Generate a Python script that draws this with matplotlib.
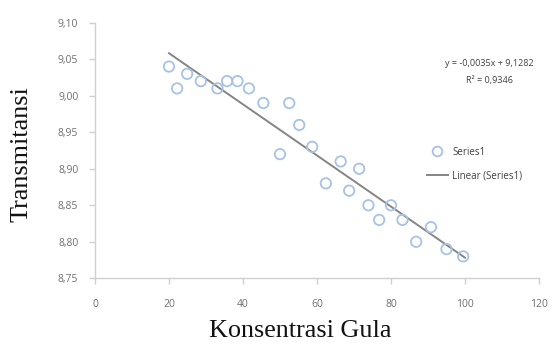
import matplotlib
matplotlib.use("Agg")
import matplotlib.pyplot as plt
import numpy as np
from matplotlib.ticker import FuncFormatter
from matplotlib.lines import Line2D

# Measured sugar concentration vs. transmittance
konsentrasi = [20.0, 22.2, 24.9, 28.6, 33.1, 35.7, 38.5, 41.6, 45.5, 50.0,
               52.5, 55.2, 58.7, 62.4, 66.4, 68.7, 71.4, 73.9, 76.8, 80.0,
               83.1, 86.8, 90.8, 95.0, 99.5]
transmitansi = [9.04, 9.01, 9.03, 9.02, 9.01, 9.02, 9.02, 9.01, 8.99, 8.92,
                8.99, 8.96, 8.93, 8.88, 8.91, 8.87, 8.90, 8.85, 8.83, 8.85,
                8.83, 8.80, 8.82, 8.79, 8.78]

# Linear trendline coefficients
slope = -0.0035
intercept = 9.1282
r_squared = 0.9346
trend_x = [20, 100]

x_ticks = [0, 20, 40, 60, 80, 100, 120]
y_ticks = [8.75, 8.80, 8.85, 8.90, 8.95, 9.00, 9.05, 9.10]

W, H = 552, 345
fig = plt.figure(figsize=(W / 100, H / 100), dpi=100)
ax = fig.add_axes([95 / W, 1 - 278.3 / H, (539 - 95) / W, (278.3 - 22.7) / H])

marker_color = "#a8c2e4"
line_color = "#858585"
axis_color = "#d0d0d0"
tick_text = "#707070"

ax.scatter(konsentrasi, transmitansi, s=56, facecolors="none",
           edgecolors=marker_color, linewidths=1.3, zorder=3)
tx = np.array(trend_x, dtype=float)
ax.plot(tx, slope * tx + intercept, color=line_color, lw=1.4, zorder=2)

ax.set_xlim(0, 120)
ax.set_ylim(8.75, 9.10)
ax.set_xticks(x_ticks)
ax.set_yticks(y_ticks)
ax.xaxis.set_major_formatter(FuncFormatter(lambda v, p: f"{v:.0f}"))
ax.yaxis.set_major_formatter(FuncFormatter(lambda v, p: f"{v:.2f}".replace(".", ",")))

for side in ("top", "right"):
    ax.spines[side].set_visible(False)
for side in ("left", "bottom"):
    ax.spines[side].set_color(axis_color)
    ax.spines[side].set_linewidth(1.0)
ax.tick_params(axis="both", color=axis_color, length=4, width=1.0,
               labelcolor=tick_text, labelsize=7.5)
ax.tick_params(axis="x", pad=11)
ax.tick_params(axis="y", pad=8)
for lab in ax.get_xticklabels() + ax.get_yticklabels():
    lab.set_fontfamily("Open Sans")

serif = "Liberation Serif"
fig.text(300 / W, 1 - 331 / H, "Konsentrasi Gula", ha="center", va="center",
         fontsize=18.8, family=serif, color="#111111")
fig.text(22 / W, 1 - 154 / H, "Transmitansi", ha="center", va="center",
         rotation=90, fontsize=18.8, family=serif, color="#111111")

fig.text(489 / W, 1 - 63 / H, "y = -0,0035x + 9,1282", ha="center", va="center",
         fontsize=6.5, family="Open Sans", color="#404040")
fig.text(489 / W, 1 - 80 / H, "R\u00b2 = 0,9346", ha="center", va="center",
         fontsize=6.5, family="Open Sans", color="#404040")

handles = [
    Line2D([], [], ls="none", marker="o", markersize=7, markerfacecolor="none",
           markeredgecolor=marker_color, markeredgewidth=1.3),
    Line2D([], [], color=line_color, lw=1.4),
]
leg = fig.legend(handles, ["Series1", "Linear (Series1)"],
                 loc="upper left", bbox_to_anchor=(418 / W, 1 - 138 / H),
                 frameon=False, labelspacing=1.3,
                 handlelength=2.2, handletextpad=0.4,
                 prop={"family": "Open Sans", "size": 7})
for t in leg.get_texts():
    t.set_color("#404040")

fig.savefig("out.png", dpi=100)
